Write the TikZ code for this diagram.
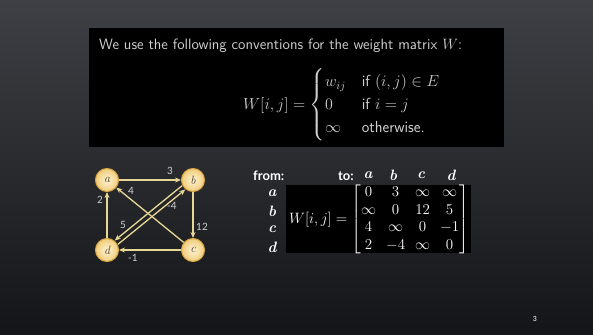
\RequirePackage{fix-cm}
\documentclass[tikz,border=0pt]{standalone}
\usepackage{amsmath}
\usepackage{fontspec}
\newfontfamily\lblfont{Lato}
\usetikzlibrary{arrows.meta,calc}
\definecolor{bgtop}{HTML}{3E4045}
\definecolor{bgbot}{HTML}{141518}
\definecolor{txtgray}{HTML}{D0D0D0}
\definecolor{edgecol}{HTML}{E8D896}
\definecolor{nodeborder}{HTML}{D8A640}
\definecolor{nodein}{HTML}{FFF4D6}
\definecolor{nodeout}{HTML}{F0CC7A}
\definecolor{nodetext}{HTML}{4A3A20}
\tikzset{
  vtx/.style={circle, minimum size=23pt, inner sep=0pt, draw=nodeborder, line width=1pt,
    inner color=nodein, outer color=nodeout, text=nodetext, font=\fontsize{12}{13}\selectfont\itshape},
  edge/.style={draw=edgecol, line width=1.3pt, -{Stealth[length=6pt,width=5pt]}},
  wlabel/.style={text=txtgray, font=\lblfont\fontsize{10}{11}\selectfont, inner sep=0pt},
  blackbox/.style={fill=black, draw=none},
  hdr/.style={text=white, font=\lblfont\bfseries\fontsize{13}{14}\selectfont, inner sep=0pt},
  rowlbl/.style={text=white, font=\fontsize{15}{16}\selectfont\bfseries\itshape, inner sep=0pt},
}
\begin{document}
\begin{tikzpicture}[x=1pt,y=-1pt]
\useasboundingbox (0,0) rectangle (593,334);
\shade[top color=bgtop, bottom color=bgbot] (0,0) rectangle (593,334);
% top box
\fill[blackbox] (89,28) rectangle (504,147);
\node[anchor=base west, inner sep=0pt, text=txtgray, font=\sffamily\fontsize{15}{18}\selectfont] (title) at (99,50)
  {We use the following conventions for the weight matrix $W$:};
\node[anchor=west, inner sep=0pt, text=txtgray, font=\sffamily\fontsize{16}{19}\selectfont] (formula) at (243,105)
  {$W[i,j] = \begin{cases} w_{ij} & \text{if } (i,j)\in E\\ 0 & \text{if } i=j\\ \infty & \text{otherwise.}\end{cases}$};
% graph
\node[vtx] (a) at (107,180) {a};
\node[vtx] (b) at (193,180) {b};
\node[vtx] (c) at (193,250) {c};
\node[vtx] (d) at (107,250) {d};
\draw[edge] (a) -- (b);
\draw[edge] (b) -- (c);
\draw[edge] (c) -- (d);
\draw[edge] (d) -- (a);
\draw[edge] (c) -- (a);
\draw[edge, transform canvas={shift={(-1.6pt,1.9pt)}}] (b) -- (d);
\draw[edge, transform canvas={shift={(1.6pt,-1.9pt)}}] (d) -- (b);
\node[wlabel] (l3) at (170,171) {3};
\node[wlabel] (l12) at (202,227) {12};
\node[wlabel] (lm1) at (133,258) {-1};
\node[wlabel] (l2) at (100,200) {2};
\node[wlabel] (l4) at (131,191) {4};
\node[wlabel] (l5) at (123,225) {5};
\node[wlabel] (lm4) at (172,206) {-4};
% matrix section
\node[hdr, anchor=base west] (from) at (253,180) {from:};
\node[hdr, anchor=base west] (to) at (338,180) {to:};
\node[rowlbl] (ca) at (368,175) {a};
\node[rowlbl] (cb) at (393,175) {b};
\node[rowlbl] (cc) at (421,175) {c};
\node[rowlbl] (cd) at (451,175) {d};
\node[rowlbl] (ra) at (272,193) {a};
\node[rowlbl] (rb) at (272,211) {b};
\node[rowlbl] (rc) at (272,229) {c};
\node[rowlbl] (rd) at (272,247) {d};
\fill[blackbox] (286,185) rectangle (471,253);
\node[anchor=west, inner sep=0pt, text=white, font=\fontsize{15}{17.5}\selectfont] (mat) at (289,219.5)
  {$W[i,j] = \begin{bmatrix} 0 & 3 & \infty & \infty\\ \infty & 0 & 12 & 5\\ 4 & \infty & 0 & -1\\ 2 & -4 & \infty & 0\end{bmatrix}$};
\node[text=txtgray, font=\lblfont\bfseries\fontsize{7}{8}\selectfont, inner sep=0pt] (pg) at (535,319) {3};
\end{tikzpicture}
\end{document}
